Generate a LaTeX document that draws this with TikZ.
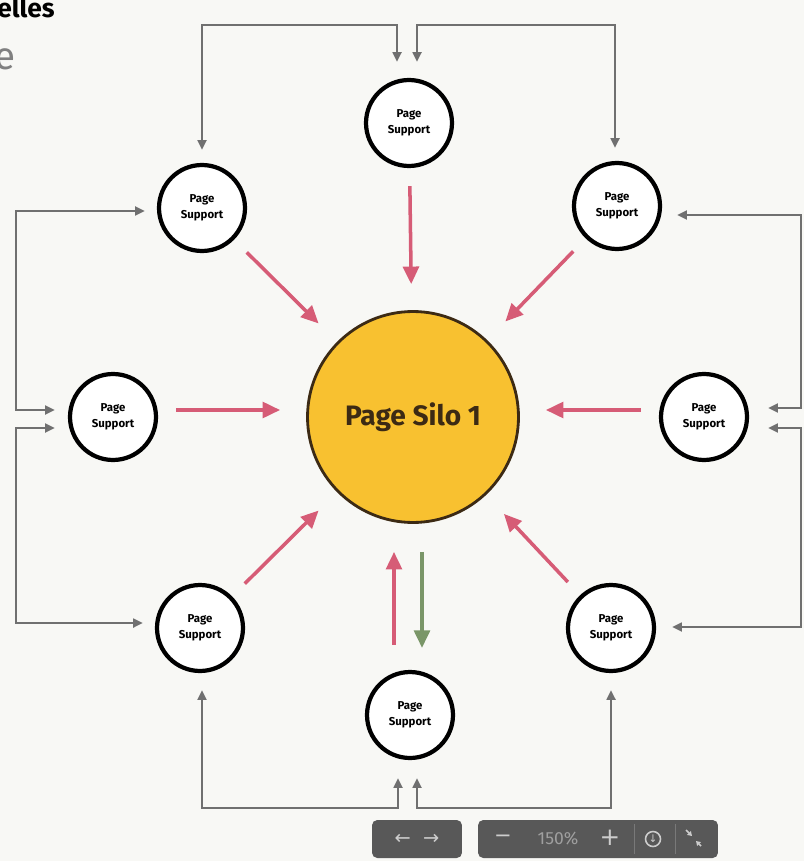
\documentclass[tikz,border=0pt]{standalone}
\usepackage{fontspec}
\setmainfont{Fira Sans}
\newfontfamily\symfont{DejaVu Sans}
\usetikzlibrary{arrows.meta,calc}

\definecolor{paper}{RGB}{248,248,245}
\definecolor{silofill}{RGB}{248,193,48}
\definecolor{siloedge}{RGB}{60,42,20}
\definecolor{pushred}{RGB}{214,92,118}
\definecolor{backgreen}{RGB}{122,150,104}
\definecolor{linkgray}{RGB}{112,112,112}
\definecolor{barfill}{RGB}{88,88,88}
\definecolor{bartext}{RGB}{205,205,205}

\tikzset{
	support/.style={circle, draw=black, line width=2.4pt, fill=white, minimum size=1.72cm, inner sep=0pt, align=center, font=\fontsize{6.5}{9}\selectfont\bfseries},
	silo/.style={circle, draw=siloedge, line width=1.6pt, fill=silofill, minimum size=4.22cm, text=siloedge, font=\fontsize{16}{18}\selectfont\bfseries},
	push/.style={pushred, line width=2pt, shorten <=0.36cm, shorten >=0.52cm, -{Triangle[length=10pt,width=9pt]}},
	back/.style={backgreen, line width=2pt, -{Triangle[length=10pt,width=9pt]}},
	link/.style={linkgray, line width=1.3pt, {Triangle[length=5.5pt,width=5pt]}-{Triangle[length=5.5pt,width=5pt]}},
	toolbar/.style={fill=barfill, rounded corners=3pt, inner sep=0pt},
}

\begin{document}
\begin{tikzpicture}[x=0.02cm, y=-0.02cm]

	%page background
	\fill[paper] (0,0) rectangle (804,861);
	\useasboundingbox (0,0) rectangle (804,861);

	%cut-off heading text at the left edge
	\node[anchor=base west, inner sep=0pt, font=\fontsize{15}{17}\selectfont\bfseries] (heading) at (-3,18) {elles};
	\node[anchor=base west, inner sep=0pt, text=gray, font=\fontsize{22}{24}\selectfont] (subhead) at (-6,70) {e};

	%silo in the middle, support pages around it
	\node[silo] (silo) at (413,417) {Page Silo 1};
	\node[support] (top) at (409,123) {Page\\Support};
	\node[support] (tl) at (202,208) {Page\\Support};
	\node[support] (tr) at (617,206) {Page\\Support};
	\node[support] (l) at (113,417) {Page\\Support};
	\node[support] (r) at (704,417) {Page\\Support};
	\node[support] (bl) at (200,628) {Page\\Support};
	\node[support] (br) at (611,628) {Page\\Support};
	\node[support] (b) at (410,715) {Page\\Support};

	%links from the supports into the silo
	\foreach \s in {top,tl,tr,bl,br}
		\draw[push] (\s) -- (silo);
	\draw[push] ($(l.east)+(0,-7)$) -- ($(silo.west)+(0,-7)$);
	\draw[push] ($(r.west)+(0,-7)$) -- ($(silo.east)+(0,-7)$);
	\draw[pushred, line width=2pt, -{Triangle[length=10pt,width=9pt]}] ($(b.north)+(-16,-25)$) -- ($(b.north)+(-16,-118)$);
	\draw[back] ($(b.north)+(12,-118)$) -- ($(b.north)+(12,-22)$);

	%links between neighbouring supports
	\draw[link] ($(tl.north)+(0,-13)$) |- ($(top.north)+(-12,-53)$) -- ($(top.north)+(-12,-16)$);
	\draw[link] ($(tr.north)+(-2,-13)$) |- ($(top.north)+(8,-53)$) -- ($(top.north)+(8,-16)$);
	\draw[link] ($(tl.west)+(-12,3)$) -| ($(l.west)+(-52,-7)$) -- ($(l.west)+(-13,-7)$);
	\draw[link] ($(l.west)+(-13,11)$) -- ($(l.west)+(-52,11)$) |- ($(bl.west)+(-12,-5)$);
	\draw[link] ($(tr.east)+(15,9)$) -| ($(r.east)+(52,-9)$) -- ($(r.east)+(19,-9)$);
	\draw[link] ($(r.east)+(19,11)$) -- ($(r.east)+(52,11)$) |- ($(br.east)+(16,-1)$);
	\draw[link] ($(bl.south)+(2,17)$) |- ($(b.south)+(-12,48)$) -- ($(b.south)+(-12,18)$);
	\draw[link] ($(br.south)+(0,17)$) |- ($(b.south)+(7,48)$) -- ($(b.south)+(7,18)$);

	%viewer toolbar along the bottom
	\begin{scope}[text=bartext]
		\node[toolbar, minimum width=1.8cm, minimum height=0.76cm] (nav) at (417,839) {};
		\node[font=\symfont\fontsize{11}{12}\selectfont] at (nav) {←\hspace{7pt}→};
		\node[toolbar, minimum width=4.8cm, minimum height=0.76cm] (zoombar) at (598,839) {};
		\node[font=\symfont\fontsize{12}{12}\selectfont] (minus) at (503,839) {−};
		\node[font=\fontsize{10}{12}\selectfont, text=gray!75] (pct) at (558,839) {150\%};
		\node[font=\symfont\fontsize{14}{14}\selectfont] (plus) at (610,838) {+};
		\draw[barfill!80!white, line width=0.4pt] (634,824) -- (634,854);
		\draw[barfill!80!white, line width=0.4pt] (675,824) -- (675,854);
		\node[circle, draw=bartext, line width=0.9pt, minimum size=0.3cm, inner sep=0pt, font=\symfont\fontsize{6}{6}\selectfont] (info) at (653,839) {↓};
		\draw[bartext, line width=1pt, -{Triangle[length=2.5pt,width=3pt]}] (686,830) -- (692,836);
		\draw[bartext, line width=1pt, -{Triangle[length=2.5pt,width=3pt]}] (701,846) -- (696,841);
	\end{scope}

\end{tikzpicture}
\end{document}
